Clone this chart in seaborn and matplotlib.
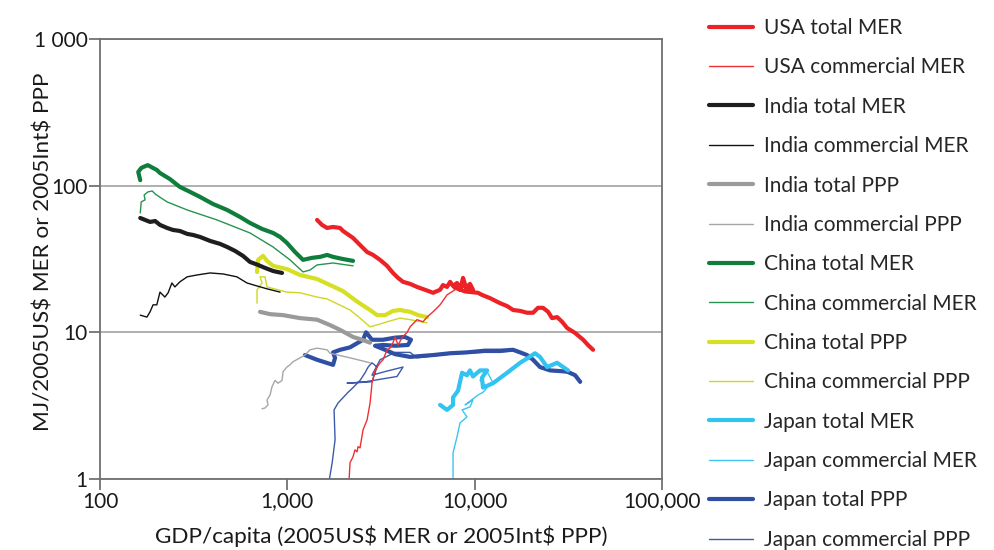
import matplotlib
matplotlib.use("Agg")
import matplotlib.pyplot as plt
from matplotlib.ticker import FixedLocator, FixedFormatter, NullLocator
import seaborn as sns

# ==============================
# Data (GDP/capita vs energy intensity)
# ==============================

usa_total_x = [1441, 1531, 1630, 1754, 1911, 1983, 2243, 2444, 2665, 2869, 3125, 3406, 3665, 3900,
               4145, 4522, 4922, 5433, 5995, 6535, 6777, 7120, 7396, 7667, 8050, 8350, 8670, 8994,
               9440, 9795, 8600, 7800, 8900, 10420, 10940, 12080, 13670, 14900, 16040, 17480, 19040,
               20500, 21780, 23160, 24660, 25880, 27560, 29290, 31160, 34360, 37950, 40240, 42870]
usa_total_y = [58.4, 54.0, 51.5, 52.3, 51.5, 49.1, 44.0, 39.4, 35.3, 33.7, 31.2, 28.4, 25.4, 23.5,
               22.1, 21.4, 20.4, 19.5, 18.6, 19.5, 21.0, 20.4, 22.1, 20.7, 21.7, 19.5, 23.5, 20.1,
               21.4, 19.5, 21.0, 20.2, 19.0, 18.6, 18.0, 17.1, 15.8, 15.1, 14.2, 14.0, 13.6,
               13.6, 14.7, 14.7, 13.8, 12.5, 12.7, 11.8, 10.7, 9.9, 8.9, 8.2, 7.6]

usa_comm_x = [2135, 2161, 2243, 2297, 2356, 2384, 2444, 2535, 2665, 2765, 2831, 2939, 3125, 3242,
              3406, 3532, 3665, 3757, 3900, 4093, 4359, 4522, 4922, 5297, 5566, 5995, 6535, 7120, 7850]
usa_comm_y = [0.97, 1.29, 1.42, 1.58, 1.53, 1.66, 1.63, 2.16, 2.53, 3.30, 4.5, 5.5, 6.2, 6.5,
              7.6, 7.8, 8.5, 9.3, 8.2, 9.2, 10.0, 10.9, 12.2, 11.8, 12.7, 13.8, 15.4, 18.0, 19.5]

india_total_mer_x = [164, 174, 185, 197, 209, 228, 245, 267, 292, 314, 342, 387, 437, 477, 526,
                     580, 632, 698, 760, 839, 937]
india_total_mer_y = [60.2, 58.4, 56.6, 57.4, 54.0, 51.5, 49.9, 49.1, 46.9, 46.1, 44.7, 42.0, 40.1,
                     38.2, 35.9, 33.2, 30.2, 28.8, 27.5, 26.2, 25.4]

india_comm_mer_x = [164, 178, 185, 192, 201, 209, 222, 231, 242, 251, 267, 292, 329, 387, 454,
                    538, 609, 689, 779, 915]
india_comm_mer_y = [13.1, 12.7, 13.8, 15.4, 15.4, 18.8, 17.4, 18.6, 21.7, 20.4, 22.1, 23.9, 24.6,
                    25.4, 25.0, 23.9, 21.7, 20.7, 19.8, 18.8]

india_total_ppp_x = [715, 809, 949, 1169, 1441, 1691, 1911, 2243, 2504, 2765]
india_total_ppp_y = [13.8, 13.3, 13.1, 12.5, 12.2, 11.2, 10.4, 9.3, 8.9, 8.5]

india_comm_ppp_x = [733, 760, 789, 779, 809, 828, 860, 892, 937, 949, 995, 1033, 1072, 1169, 1242,
                    1321, 1441, 1630, 1691, 1866, 2161, 2765]
india_comm_ppp_y = [3.01, 3.05, 3.20, 3.46, 3.74, 4.25, 4.7, 4.5, 4.7, 5.4, 5.8, 6.0, 6.3, 6.7, 7.0,
                    7.6, 7.8, 7.6, 7.2, 7.0, 6.7, 6.2]

china_total_mer_x = [164, 160, 166, 170, 180, 192, 201, 209, 236, 267, 303, 342, 401, 477, 559, 632,
                     733, 839, 915, 995, 1099, 1213, 1355, 1495, 1630, 1754, 1983, 2243]
china_total_mer_y = [109, 124, 132, 134, 138, 132, 128, 122, 111, 98, 90.6, 83.8, 75.0, 68.3, 61.2,
                     55.7, 50.7, 47.6, 44.7, 40.7, 35.3, 31.2, 32.2, 32.7, 33.7, 32.7, 31.6, 30.7]

china_comm_mer_x = [164, 166, 174, 172, 180, 190, 197, 228, 292, 421, 632, 839, 1033, 1213, 1321,
                    1441, 1754, 2243]
china_comm_mer_y = [65.2, 77.5, 80.0, 86.4, 90.6, 92.0, 87.7, 77.5, 68.3, 58.4, 47.6, 38.2, 31.2,
                    25.8, 26.6, 28.8, 29.7, 28.4]

china_total_ppp_x = [689, 698, 742, 779, 839, 995, 1169, 1441, 1691, 1983, 2297, 2504, 2765, 3013,
                     3323, 3665, 3996, 4522, 4989, 5566]
china_total_ppp_y = [25.8, 31.2, 33.2, 30.7, 28.4, 27.0, 24.6, 23.1, 21.0, 19.1, 16.6, 15.4, 14.2,
                     13.1, 13.1, 14.0, 14.2, 13.8, 13.1, 12.7]

china_comm_ppp_x = [689, 689, 733, 715, 760, 779, 995, 1169, 1441, 1630, 2161, 2444, 2765, 3125,
                    3406, 3996, 4522, 5566]
china_comm_ppp_y = [15.8, 19.5, 21.7, 23.9, 23.9, 20.4, 18.8, 18.6, 17.4, 16.9, 14.2, 12.5, 10.9,
                    11.4, 11.8, 12.5, 12.2, 11.6]

japan_total_mer_x = [6535, 7120, 7667, 7667, 8150, 8565, 9100, 9440, 9795, 10680, 11650, 10940,
                     11080, 12540, 14900, 17480, 19280, 21000, 22320, 24360, 27560, 29660, 31540]
japan_total_mer_y = [3.2, 2.96, 3.2, 3.6, 4.0, 5.3, 5.1, 5.5, 5.0, 5.5, 5.5, 4.9, 4.2, 4.5, 5.3,
                     6.2, 6.7, 7.2, 6.8, 5.8, 6.2, 5.8, 5.5]

japan_comm_mer_x = [7667, 7667, 8050, 8350, 9100, 8565, 9440, 9795, 8890, 10420, 11080, 11650,
                    10680, 11650, 12540, 14900, 17480, 21000, 22320, 24360, 27560, 31540]
japan_comm_mer_y = [0.97, 1.51, 1.94, 2.41, 2.65, 2.96, 3.1, 3.46, 3.2, 3.74, 3.9, 4.2, 4.7, 5.4,
                    4.5, 5.2, 6.1, 7.1, 6.7, 5.7, 6.1, 5.5]

japan_total_ppp_x = [1242, 1441, 1754, 1798, 1754, 1911, 2161, 2535, 2631, 2831, 3242, 3757, 4246,
                     4571, 4403, 3757, 3242, 2939, 3323, 3757, 4522, 5995, 7396, 9100, 11360, 13670,
                     16040, 17480, 19040, 20500, 22320, 25270, 31160, 34360, 36570]
japan_total_ppp_y = [7.0, 6.5, 6.0, 6.7, 7.3, 7.6, 7.9, 8.9, 10.0, 8.9, 8.9, 9.2, 9.3, 8.9, 8.2,
                     8.1, 8.2, 8.1, 7.6, 7.1, 6.8, 7.0, 7.2, 7.3, 7.5, 7.5, 7.6, 7.3, 7.0, 6.5, 5.8,
                     5.5, 5.4, 5.1, 4.6]

japan_comm_ppp_x = [1671, 1735, 1798, 1776, 1866, 2109, 2243, 2444, 2600, 2700, 2831, 3013, 2939,
                    2831, 2083, 2600, 3851, 4145, 3323, 2831, 3125, 3757, 4522, 4922, 5995, 7396,
                    9100, 11360, 13670, 16040, 17480, 19040, 20500, 22320, 25270, 31160, 34360, 36570]
japan_comm_ppp_y = [0.97, 1.29, 1.85, 2.96, 3.30, 3.9, 4.2, 4.7, 5.3, 5.8, 6.2, 5.8, 5.3, 4.6, 4.5,
                    4.6, 5.0, 5.8, 5.4, 5.1, 6.5, 7.3, 7.3, 6.7, 6.9, 7.1, 7.2, 7.3, 7.3, 7.5, 7.2,
                    6.9, 6.4, 5.7, 5.5, 5.3, 5.05, 4.5]

# ==============================
# Series styles
# ==============================

series = [
    ("USA total MER", usa_total_x, usa_total_y, "#ec2227", 3.0),
    ("USA commercial MER", usa_comm_x, usa_comm_y, "#ee3035", 1.0),
    ("India total MER", india_total_mer_x, india_total_mer_y, "#1e1e1e", 3.0),
    ("India commercial MER", india_comm_mer_x, india_comm_mer_y, "#111111", 1.0),
    ("India total PPP", india_total_ppp_x, india_total_ppp_y, "#9a9a9a", 3.0),
    ("India commercial PPP", india_comm_ppp_x, india_comm_ppp_y, "#a6a6a6", 1.0),
    ("China total MER", china_total_mer_x, china_total_mer_y, "#0f7e3c", 3.0),
    ("China commercial MER", china_comm_mer_x, china_comm_mer_y, "#279350", 1.0),
    ("China total PPP", china_total_ppp_x, china_total_ppp_y, "#d7df23", 3.0),
    ("China commercial PPP", china_comm_ppp_x, china_comm_ppp_y, "#cfd81e", 1.0),
    ("Japan total MER", japan_total_mer_x, japan_total_mer_y, "#33c3f0", 3.0),
    ("Japan commercial MER", japan_comm_mer_x, japan_comm_mer_y, "#3cc5f0", 1.0),
    ("Japan total PPP", japan_total_ppp_x, japan_total_ppp_y, "#2f4fa5", 3.0),
    ("Japan commercial PPP", japan_comm_ppp_x, japan_comm_ppp_y, "#3c5aa9", 1.0),
]

sns.set_style("ticks")
plt.rcParams["font.family"] = ["Lato", "DejaVu Sans"]
plt.rcParams["text.parse_math"] = False

fig = plt.figure(figsize=(9.95, 5.5), dpi=100)
ax = fig.add_axes([100 / 995, 1 - 479 / 550, 562 / 995, 440 / 550])

# draw in reverse order so USA ends up on top
for name, xs, ys, color, lw in reversed(series):
    sns.lineplot(x=xs, y=ys, sort=False, estimator=None, color=color, linewidth=lw,
                 label=name, legend=False, ax=ax,
                 solid_capstyle="round", solid_joinstyle="round")

ax.set_xscale("log")
ax.set_yscale("log")
ax.set_xlim(100, 100000)
ax.set_ylim(1, 1000)

ax.xaxis.set_major_locator(FixedLocator([100, 1000, 10000, 100000]))
ax.xaxis.set_major_formatter(FixedFormatter(["100", "1,000", "10,000", "100,000"]))
ax.yaxis.set_major_locator(FixedLocator([1, 10, 100, 1000]))
ax.yaxis.set_major_formatter(FixedFormatter(["1", "10", "100", "1 000"]))
ax.xaxis.set_minor_locator(NullLocator())
ax.yaxis.set_minor_locator(NullLocator())

ax.tick_params(axis="both", direction="out", length=8, width=1.2, color="#666666",
               labelsize=15, labelcolor="#1a1a1a", pad=1)

ax.grid(axis="y", color="#9a9a9a", linewidth=1.1)
ax.set_axisbelow(True)

for side in ["left", "bottom", "top", "right"]:
    ax.spines[side].set_visible(True)
    ax.spines[side].set_color("#707070")
    ax.spines[side].set_linewidth(1.3)

ax.set_xlabel("GDP/capita (2005US$ MER or 2005Int$ PPP)", fontsize=16.2, color="#1a1a1a", labelpad=10)
ax.set_ylabel("MJ/2005US$ MER or 2005Int$ PPP", fontsize=16.2, color="#1a1a1a")
ax.yaxis.set_label_coords(-0.083, 0.516)

# legend in the original order
handles, labels = ax.get_legend_handles_labels()
lookup = dict(zip(labels, handles))
order = [s[0] for s in series]
fig.legend([lookup[n] for n in order], order, loc="upper left",
           bbox_to_anchor=(709 / 995, 1 - 18 / 550), frameon=False, fontsize=15,
           handlelength=2.1, handletextpad=0.55, labelspacing=0.93,
           borderpad=0, borderaxespad=0)

fig.savefig("out.png", dpi=100)
